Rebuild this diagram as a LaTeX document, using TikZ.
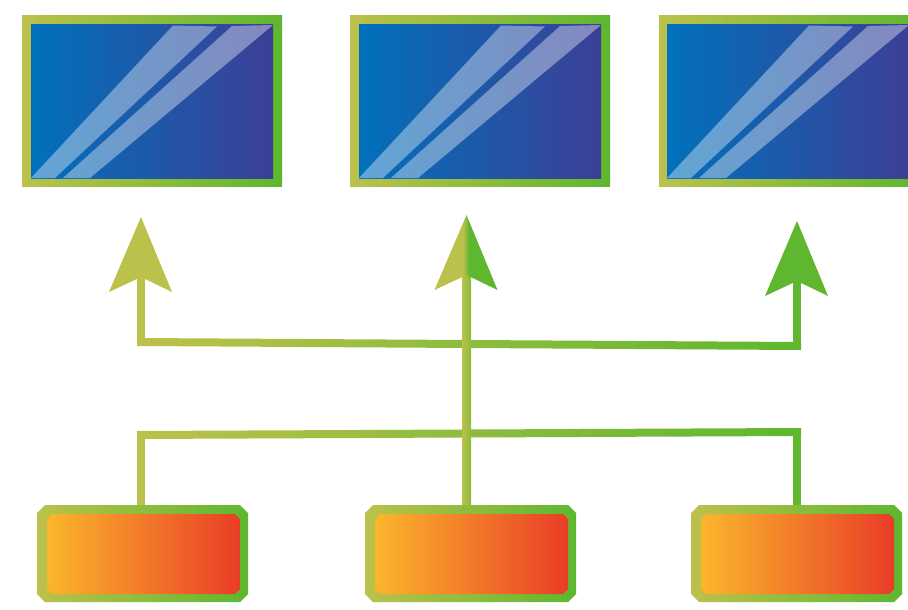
\documentclass[tikz,border=0pt]{standalone}
\usepackage{tikz}
\usetikzlibrary{calc, positioning}
\definecolor{framelime}{HTML}{BCC14B}
\definecolor{framegreen}{HTML}{5EB72F}
\definecolor{stemgreen}{HTML}{8CBB3B}
\definecolor{glassblue}{HTML}{0071BC}
\definecolor{glassindigo}{HTML}{3C3F96}
\definecolor{padamber}{HTML}{FBB62C}
\definecolor{padred}{HTML}{E93D27}
\pgfdeclarehorizontalshading{headsplit}{100bp}{
	color(0bp)=(framelime); color(47.6bp)=(framelime);
	color(52.4bp)=(framegreen); color(100bp)=(framegreen)}
\tikzstyle{rimshade}=[left color=framelime, right color=framegreen]
\tikzstyle{coreshade}=[left color=padamber, right color=padred]
\tikzstyle{monitor}=[rimshade, inner sep=0pt, outer sep=0pt, minimum width=260pt, minimum height=170pt]
\tikzstyle{glass}=[left color=glassblue, right color=glassindigo, inner sep=0pt, outer sep=0pt, minimum width=242pt, minimum height=153pt]
\tikzstyle{glare}=[fill=white, fill opacity=.38]
\tikzstyle{pad}=[inner sep=0pt, outer sep=0pt, minimum width=211pt, minimum height=97pt]
\tikzstyle{padcore}=[inner sep=0pt, outer sep=0pt, minimum width=193pt, minimum height=80pt]
\tikzstyle{wire}=[line width=8.5pt, line cap=rect]
\newcommand*{\busline}[2]{%
	\shade[rimshade] ($(#1)+(-4,-4)$) -- ($(#2)+(4,-4)$) -- ($(#2)+(4,4)$) -- ($(#1)+(-4,4)$) -- cycle;
}
\newcommand*{\headpath}[1]{($(#1)+(-32,75)$) -- (#1) -- ($(#1)+(31,75)$) -- ($(#1)+(0,60)$) -- cycle}
% outline of a node with its corners cut off by #2
\newcommand*{\cutpath}[2]{%
	($(#1.north west)+(#2,0)$) -- ($(#1.north east)+(-#2,0)$) -- ($(#1.north east)+(0,#2)$)
	-- ($(#1.south east)+(0,-#2)$) -- ($(#1.south east)+(-#2,0)$) -- ($(#1.south west)+(#2,0)$)
	-- ($(#1.south west)+(0,-#2)$) -- ($(#1.north west)+(0,#2)$) -- cycle}

\begin{document}
\begin{tikzpicture}[x=1pt, y=-1pt]
	\clip (0,0) rectangle (908,610);

	% Screens along the top
	\foreach \fx/\gx [count=\i] in {152/152, 480/480, 789/788}{
		\node[monitor] (monitor\i) at (\fx, 101) {};
		\node[glass] (glass\i) at (\gx, 101.5) {};
		\begin{scope}[shift={(glass\i.south west)}]
			\fill[glare] (0,0) -- (142,-152.5) -- (186,-151.5) -- (24,0) -- cycle;
			\fill[glare] (32,0) -- (201,-152) -- (242,-153) -- (59,0) -- cycle;
		\end{scope}
	}

	% Arrow tips, where the wires meet the heads, and the ends of the wires
	\coordinate (tip1) at (141, 217);
	\coordinate (tip2) at (466.5, 215);
	\coordinate (tip3) at (797, 221);
	\coordinate (neck1) at (141, 277);
	\coordinate (neck3) at (797, 281);
	\coordinate (upperA) at (141, 342);
	\coordinate (upperB) at (797, 346);
	\coordinate (lowerA) at (141, 435);
	\coordinate (lowerB) at (797, 432);
	\coordinate (foot1) at (141, 510);
	\coordinate (foot2) at (466.5, 510);
	\coordinate (foot3) at (797, 510);

	% Wires
	\draw[wire, framelime] (neck1) -- (upperA);
	\draw[wire, framegreen] (neck3) -- (upperB);
	\draw[wire, framelime] (foot1) -- (lowerA);
	\draw[wire, framegreen] (foot3) -- (lowerB);
	\busline{upperA}{upperB}
	\busline{lowerA}{lowerB}
	\shade[left color=framelime, right color=stemgreen] ($(foot2)+(-4.5,0)$) rectangle ($(tip2)+(4.5,60)$);

	% Arrow heads
	\fill[framelime] \headpath{tip1};
	\shade[shading=headsplit] \headpath{tip2};
	\fill[framegreen] \headpath{tip3};

	% Boxes along the bottom
	\foreach \fx/\gx [count=\i] in {142.5/143.5, 470.5/471.5, 796.5/797.5}{
		\node[pad] (pad\i) at (\fx, 553.5) {};
		\node[padcore] (core\i) at (\gx, 554) {};
		\shade[rimshade] \cutpath{pad\i}{8};
		\shade[coreshade] \cutpath{core\i}{5};
	}
\end{tikzpicture}
\end{document}
